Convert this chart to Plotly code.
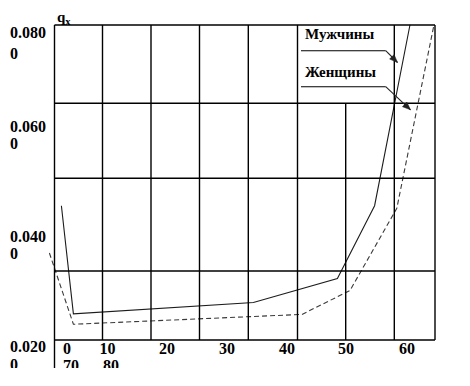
import math
import plotly.graph_objects as go

# ---------------- data ----------------
men_age = [2.4, 4.4, 34.4, 48.4, 54.6, 60.5]
men_qx = [0.0489, 0.0281, 0.0303, 0.0349, 0.0489, 0.0837]
women_age = [0.4, 4.4, 42.5, 50.5, 58.3, 64.5]
women_qx = [0.0398, 0.0261, 0.0280, 0.0326, 0.0484, 0.0837]

y_tick_labels = ["0.080", "0.060", "0.040", "0.020"]
y_tick_suffix = "0"
x_tick_labels = ["0", "10", "20", "30", "40", "50", "60"]
x_tick_labels_wrapped = ["70", "80"]
series_names = ["Мужчины", "Женщины"]
y_title = "q<sub>x</sub>"

# ---------------- layout constants (pixels) ----------------
W, H = 470, 386
CLIP_BOTTOM = 368
FONT = "Liberation Serif, Times New Roman, serif"

def px(x):
    return x / W

def py(y):
    return 1 - y / H

# label placement in pixel space (overlay axis)
y_lab_x = 10
y_lab_y = [34.3, 127.7, 238.0, 348.3]
y_suf_y = [54.7, 145.3, 255.3, 365.8]
x_lab_x = [67, 107.5, 167, 227, 287, 346, 407]
x_lab_y = 349.5
x_wrap_x = [71, 111]
x_wrap_y = 366.7

fig = go.Figure()

fig.add_trace(go.Scatter(
    x=men_age, y=men_qx, mode="lines", name=series_names[0],
    line=dict(color="#1c1c1c", width=1.1), showlegend=False, hoverinfo="skip"))
fig.add_trace(go.Scatter(
    x=women_age, y=women_qx, mode="lines", name=series_names[1],
    line=dict(color="#3a3a3a", width=1.1, dash="5px,3px"), showlegend=False, hoverinfo="skip"))

# tick labels as text on a pixel overlay axis (clipped like the original box)
lab_x = [y_lab_x] * (2 * len(y_tick_labels))
lab_y = y_lab_y + y_suf_y
lab_t = ["<b>%s</b>" % t for t in y_tick_labels] + ["<b>%s</b>" % y_tick_suffix] * len(y_tick_labels)
fig.add_trace(go.Scatter(
    x=lab_x, y=lab_y, text=lab_t, mode="text", textposition="middle right",
    textfont=dict(family=FONT, size=16, color="black"),
    xaxis="x2", yaxis="y2", cliponaxis=True, showlegend=False, hoverinfo="skip"))
fig.add_trace(go.Scatter(
    x=x_lab_x + x_wrap_x,
    y=[x_lab_y] * len(x_tick_labels) + [x_wrap_y] * len(x_tick_labels_wrapped),
    text=["<b>%s</b>" % t for t in x_tick_labels + x_tick_labels_wrapped],
    mode="text", textposition="middle center",
    textfont=dict(family=FONT, size=16, color="black"),
    xaxis="x2", yaxis="y2", cliponaxis=True, showlegend=False, hoverinfo="skip"))

# ---------------- grid / frame ----------------
shapes = []
def seg(x0, y0, x1, y1, w=1.4, color="black"):
    shapes.append(dict(type="line", xref="paper", yref="paper",
                       x0=px(x0), y0=py(y0), x1=px(x1), y1=py(y1),
                       line=dict(color=color, width=w)))

def arrow(x0, y0, x1, y1, length=8, half=3.2):
    seg(x0, y0, x1, y1, 1.1, "#222")
    d = math.hypot(x1 - x0, y1 - y0)
    ux, uy = (x1 - x0) / d, (y1 - y0) / d
    bx, by = x1 - ux * length, y1 - uy * length
    pts = [(x1, y1), (bx - uy * half, by + ux * half), (bx + uy * half, by - ux * half)]
    path = "M %f %f L %f %f L %f %f Z" % tuple(v for p in pts for v in (px(p[0]), py(p[1])))
    shapes.append(dict(type="path", xref="paper", yref="paper", path=path,
                       fillcolor="#222", line=dict(color="#222", width=0.5)))

L, R, T, B = 54.5, 435, 25, 340
seg(L, T, R, T)
seg(L, B, R, B)
seg(L, T, L, CLIP_BOTTOM)
seg(R, T, R, B)
for yy in [103.3, 178.3, 271]:
    seg(L, yy, R, yy)
for xx in [102.5, 151, 199.5, 248.3, 297.5, 394.3]:
    seg(xx, T, xx, B)
seg(345.7, 103.3, 345.7, B)

# pointer lines for the series labels
seg(301, 50.7, 385.7, 50.7, 1.1)
seg(301, 86.7, 385.7, 86.7, 1.1)
arrow(385.7, 50.7, 397.5, 62.5)
arrow(385.7, 86.7, 410.5, 109.8)

annotations = [
    dict(text="<b>%s</b>" % y_title, x=px(55), y=py(18), xref="paper", yref="paper",
         xanchor="left", yanchor="middle", showarrow=False,
         font=dict(family=FONT, size=15, color="black")),
    dict(text="<b>%s</b>" % series_names[0], x=px(303), y=py(34), xref="paper", yref="paper",
         xanchor="left", yanchor="middle", showarrow=False,
         font=dict(family=FONT, size=15, color="black")),
    dict(text="<b>%s</b>" % series_names[1], x=px(303), y=py(71.5), xref="paper", yref="paper",
         xanchor="left", yanchor="middle", showarrow=False,
         font=dict(family=FONT, size=15, color="black")),
]

fig.update_layout(
    width=W, height=H, autosize=False,
    margin=dict(l=0, r=0, t=0, b=0, pad=0),
    paper_bgcolor="white", plot_bgcolor="white",
    showlegend=False,
    xaxis=dict(range=[-47 / 6, 423 / 6], domain=[0, 1], visible=False, fixedrange=True),
    yaxis=dict(range=[0.020 - 12 / 5200, 0.020 + 356 / 5200], domain=[(H - CLIP_BOTTOM) / H, 1],
               visible=False, fixedrange=True),
    xaxis2=dict(range=[0, W], overlaying="x", visible=False, fixedrange=True),
    yaxis2=dict(range=[CLIP_BOTTOM, 0], overlaying="y", visible=False, fixedrange=True),
    shapes=shapes,
    annotations=annotations,
)

fig.write_html("out.html", config={"displayModeBar": False},
               post_script="document.body.style.margin='0';document.body.style.overflow='hidden';")
